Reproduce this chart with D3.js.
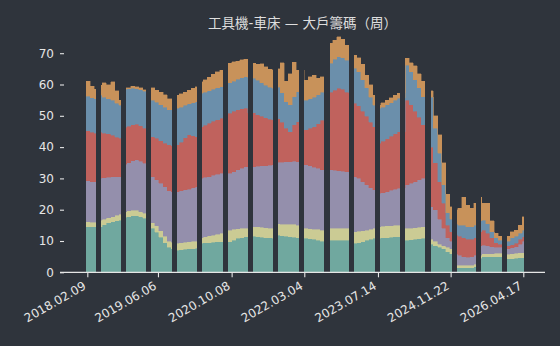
<!DOCTYPE html>
<html><head><meta charset="utf-8">
<script src="https://cdn.jsdelivr.net/npm/d3@7"></script>
<style>html,body{margin:0;padding:0;background:#2f343c;}svg{display:block;}</style>
</head><body>
<svg id="chart" width="560" height="346"></svg>
<script>
// ---------------- data ----------------
const title = "工具機-車床 — 大戶籌碼（周）";
const seriesKeys = ["g1", "g2", "g3", "g4", "g5", "g6"];      // bottom -> top
const seriesColors = ["#70a89f", "#cbcb94", "#948fac", "#c0625d", "#6b8fab", "#c8925a"];
const weeksPerSample = 4;            // each value below covers 4 weekly points
const weekCount = 434;               // weekly points on the x axis
const xTickIdx = [1, 71, 144, 216, 289, 361, 433];
const xTickLabels = ["2018.02.09", "2019.06.06", "2020.10.08", "2022.03.04", "2023.07.14", "2024.11.22", "2026.04.17"];
const yTicks = [0, 10, 20, 30, 40, 50, 60, 70];
// weekly points with no data (inclusive index ranges)
const gaps = [[10,14],[34,38],[59,63],[85,89],[110,114],[135,139],[160,164],[185,189],[211,215],
              [236,240],[260,264],[286,290],[311,315],[336,341],[362,366],[386,390],[412,416]];

const g1 = [14.6,14.5,14.5,14.6,15.2,15.8,16.2,16.5,16.7,17.6,
            17.8,18.0,18.0,17.7,17.2,14.5,14.0,12.8,11.2,9.5,
            8.0,7.5,7.1,7.2,7.3,7.5,7.6,7.7,9.3,9.4,
            9.5,9.6,9.7,9.8,9.8,9.8,10.3,10.8,11.1,11.4,
            11.5,11.5,11.4,11.2,11.1,11.0,10.9,11.8,11.7,11.5,
            11.3,11.2,11.0,11.0,10.9,10.7,10.5,10.2,9.9,9.8,
            10.3,10.3,10.3,10.3,10.3,10.3,9.3,9.5,9.8,10.2,
            10.6,10.9,10.9,11.0,11.1,11.2,11.3,11.4,11.4,10.3,
            10.4,10.6,10.7,10.9,10.9,9.0,8.5,8.0,7.5,6.5,
            6.0,1.5,1.5,1.5,1.5,1.5,1.8,4.5,5.0,5.0,
            5.0,5.0,5.0,5.0,4.3,4.4,4.5,4.6,4.7];
const g2 = [1.6,1.5,1.5,2.0,1.8,1.6,1.6,1.7,1.8,1.8,
            1.8,1.8,1.8,1.7,1.6,1.8,1.8,2.0,2.0,2.0,
            2.0,2.1,2.2,2.2,2.3,2.3,2.3,2.3,1.8,1.9,
            2.1,2.3,2.5,2.7,3.5,3.7,3.4,3.1,2.9,2.6,
            3.1,3.1,3.2,3.2,3.2,3.1,3.2,3.7,3.7,3.9,
            4.0,4.1,4.1,4.1,3.1,3.2,3.3,3.5,3.6,3.7,
            3.7,3.7,3.8,3.7,3.7,3.7,3.7,3.6,3.5,3.3,
            3.2,3.1,3.7,3.7,3.7,3.7,3.7,3.7,3.7,3.7,
            3.7,3.7,3.7,3.7,3.7,1.5,1.5,1.0,1.0,1.5,
            1.5,0.7,0.7,0.7,0.7,0.7,0.7,1.0,1.0,1.0,
            1.0,1.1,1.1,1.1,1.5,1.6,1.6,1.6,1.5];
const g3 = [13.0,13.0,13.0,13.4,13.2,12.9,12.7,12.3,12.0,15.1,
            15.4,15.8,16.1,16.1,16.0,14.5,14.7,14.7,15.3,15.8,
            16.0,16.2,16.5,16.6,16.7,16.8,17.1,17.3,18.9,19.0,
            19.0,19.1,19.1,19.1,18.2,18.1,18.5,18.9,19.3,19.7,
            19.2,19.2,19.3,19.6,19.8,20.1,20.2,19.7,19.8,19.9,
            20.0,20.1,20.2,20.2,20.3,20.1,19.8,19.5,19.3,19.2,
            18.7,18.6,18.4,18.3,18.1,18.1,17.5,16.9,15.7,14.5,
            13.2,12.3,10.6,10.7,11.0,11.3,11.5,11.7,11.7,13.9,
            14.3,14.7,15.1,15.4,15.4,10.5,10.0,8.0,5.5,3.0,
            2.5,3.8,3.3,2.8,2.6,2.8,3.0,3.0,2.7,2.5,
            2.2,1.9,1.9,1.9,1.7,1.8,2.1,2.8,3.8];
const g4 = [16.1,15.8,15.5,14.8,14.3,13.9,13.3,12.7,12.3,11.8,
            11.6,11.6,11.4,11.3,11.2,12.7,12.8,13.3,13.5,13.9,
            14.7,14.7,14.9,15.5,16.7,17.3,16.6,16.0,16.5,16.7,
            17.0,17.2,17.5,17.6,18.5,19.2,19.3,19.2,19.0,18.7,
            17.1,17.1,16.5,15.8,15.2,14.7,14.4,13.9,12.7,10.7,
            9.6,11.7,12.8,12.8,11.2,12.0,12.9,14.3,15.7,16.0,
            24.8,25.6,26.3,26.2,25.4,25.1,23.5,23.2,22.5,21.8,
            21.0,20.2,16.0,16.4,16.8,17.3,17.7,18.1,18.1,27.1,
            25.1,22.5,20.0,17.1,17.1,19.0,15.0,12.0,8.0,4.0,
            3.0,6.0,6.0,6.0,5.7,5.5,5.5,4.5,4.8,4.0,
            2.8,1.5,1.0,1.0,1.0,1.0,1.1,1.5,1.4];
const g5 = [10.9,11.0,11.0,11.8,11.5,11.3,11.2,10.8,10.6,12.2,
            12.0,11.6,11.3,11.5,11.8,11.7,11.7,11.5,11.5,11.6,
            11.3,11.5,11.7,11.3,10.3,9.9,10.6,11.2,10.7,10.6,
            10.4,10.3,10.2,10.1,10.2,9.7,9.5,9.6,9.8,10.1,
            11.1,11.1,11.0,10.8,10.5,10.2,10.1,10.1,9.5,8.5,
            8.6,9.0,9.6,9.6,9.5,9.4,9.5,9.3,9.0,9.0,
            9.3,9.8,10.1,10.0,10.3,10.6,11.2,10.8,10.0,9.2,
            8.0,6.9,11.2,11.0,10.9,10.7,10.8,10.7,10.7,11.2,
            10.5,10.0,9.5,9.0,9.0,16.0,11.0,9.0,6.0,4.0,
            4.0,3.5,3.5,4.0,4.0,4.0,4.0,3.5,3.2,3.0,
            2.0,1.5,1.2,1.2,1.5,2.2,2.2,2.0,2.1];
const g6 = [4.8,3.7,3.0,3.2,4.5,4.5,5.8,4.0,1.6,0.4,
            0.4,0.6,0.7,0.6,0.5,3.8,4.0,3.9,4.0,4.0,
            3.5,3.5,4.2,4.2,4.2,4.4,4.6,4.8,3.7,3.9,
            4.3,4.7,5.0,5.3,6.6,6.3,6.2,5.9,5.8,5.5,
            4.8,4.8,5.0,6.0,5.8,5.8,5.9,5.8,9.5,6.5,
            10.0,11.0,6.8,6.8,6.4,7.1,7.0,5.2,5.0,4.3,
            6.4,6.2,6.4,6.0,4.8,4.2,4.2,4.5,5.0,4.0,
            4.0,3.1,1.0,1.4,1.5,1.6,1.5,1.6,1.6,2.2,
            3.0,4.5,4.5,4.9,4.9,2.0,4.0,6.0,7.0,6.0,
            4.0,4.5,5.5,9.0,7.0,6.0,7.0,7.5,5.3,6.5,
            3.5,1.5,1.3,1.3,1.5,2.0,2.0,2.5,4.3];
const seriesValues = [g1, g2, g3, g4, g5, g6];

// ---------------- layout ----------------
const W = 560, H = 346;
const frameLeft = 60, frameRight = 545;
const bg = "#2f343c", ink = "#e6e6e6";
const svg = d3.select("#chart");
svg.append("rect").attr("width", W).attr("height", H).attr("fill", bg);

const x = d3.scaleLinear().domain([0, weekCount]).range([86.3, 524.3]);
const y = d3.scaleLinear().domain([0, 70]).range([272.3, 53.2]);

// rows
const rows = g1.map((_, s) => {
  const r = { i: s * weeksPerSample };
  seriesKeys.forEach((k, j) => r[k] = seriesValues[j][s]);
  return r;
});
rows.push(Object.assign({}, rows[rows.length - 1], { i: weekCount }));

const stack = d3.stack().keys(seriesKeys)(rows);

// clip to the weeks that have data
const segments = [];
let start = 0;
gaps.forEach(([a, b]) => { segments.push([start, a]); start = b + 1; });
segments.push([start, weekCount]);
const clip = svg.append("clipPath").attr("id", "dataClip");
clip.selectAll("rect").data(segments).join("rect")
  .attr("x", d => Math.round(x(d[0]))).attr("width", d => Math.round(x(d[1])) - Math.round(x(d[0])))
  .attr("y", 0).attr("height", H);

const area = d3.area()
  .curve(d3.curveStepAfter)
  .x(d => x(d.data.i))
  .y0(d => y(d[0]))
  .y1(d => y(d[1]));

svg.append("g").attr("clip-path", "url(#dataClip)")
  .selectAll("path").data(stack).join("path")
  .attr("fill", (d, j) => seriesColors[j])
  .attr("stroke", (d, j) => seriesColors[j])
  .attr("stroke-width", 0.4)
  .attr("shape-rendering", "crispEdges")
  .attr("d", area);

// x axis
const xAxis = svg.append("g").attr("transform", `translate(0,${y(0)})`)
  .call(d3.axisBottom(x).tickValues(xTickIdx).tickFormat((d, i) => xTickLabels[i]).tickSize(5));
xAxis.select(".domain").remove();
xAxis.append("line").attr("x1", frameLeft).attr("x2", frameRight)
  .attr("stroke", ink).attr("stroke-width", 1.3);
xAxis.selectAll(".tick line").attr("stroke", ink).attr("stroke-width", 1.1);
xAxis.selectAll(".tick text")
  .attr("fill", ink).attr("font-size", 12).attr("font-family", "DejaVu Sans")
  .attr("text-anchor", "end").attr("x", 0).attr("y", 0).attr("dy", null)
  .attr("transform", "translate(-1,16) rotate(-30)");

// y axis
const yAxis = svg.append("g").attr("transform", `translate(${frameLeft + 4},0)`)
  .call(d3.axisLeft(y).tickValues(yTicks).tickSize(4).tickPadding(6));
yAxis.select(".domain").remove();
yAxis.selectAll(".tick line").attr("stroke", ink).attr("stroke-width", 1.1);
yAxis.selectAll(".tick text").attr("fill", ink).attr("font-size", 12).attr("font-family", "DejaVu Sans");

// title
svg.append("text").attr("x", (frameLeft + frameRight) / 2).attr("y", 27.5)
  .attr("text-anchor", "middle").attr("fill", "#dedede")
  .attr("font-size", 13.5).attr("font-family", "'DejaVu Sans','Noto Sans CJK TC'")
  .text(title);
</script>
</body></html>
